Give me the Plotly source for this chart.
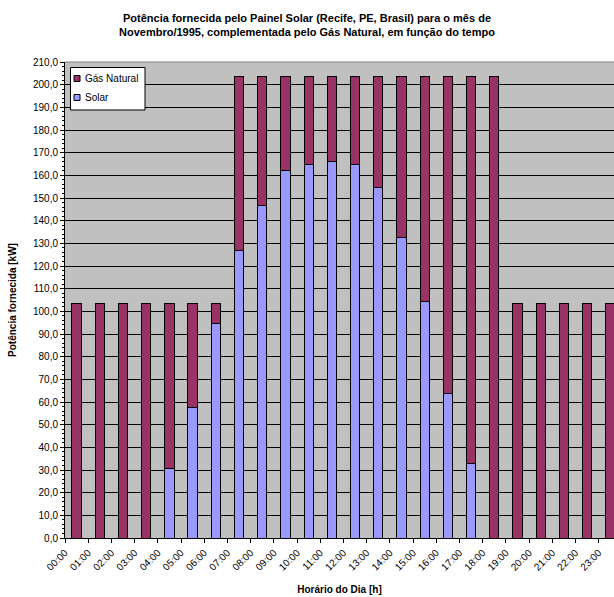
import plotly.graph_objects as go

hours = ["%02d:00" % h for h in range(24)]
solar = [0, 0, 0, 0, 30.7, 57.4, 94.8, 126.9, 146.8, 162.2, 164.9, 166.0,
         164.9, 154.7, 132.6, 104.5, 63.8, 33.0, 0, 0, 0, 0, 0, 0]
total = [103.6] * 7 + [203.6] * 12 + [103.6] * 5
gas = [round(t - s, 1) for t, s in zip(total, solar)]
series_names = ["Gás Natural", "Solar"]
series_colors = ["#993366", "#9999FF"]

x = list(range(24))
font = "Arial, Liberation Sans, sans-serif"

fig = go.Figure()
fig.add_trace(go.Bar(x=x, y=solar, name="Solar", marker=dict(color="#9999FF", line=dict(color="black", width=1)),
                     width=0.4, showlegend=False))
fig.add_trace(go.Bar(x=x, y=gas, name="Gás Natural", marker=dict(color="#993366", line=dict(color="black", width=1)),
                     width=0.4, showlegend=False))

fig.update_layout(
    width=614, height=597,
    barmode="stack",
    separators=",.",
    paper_bgcolor="white",
    plot_bgcolor="#C0C0C0",
    font=dict(family=font, size=10, color="black"),
    margin=dict(l=65, r=0, t=62, b=59, autoexpand=False),
    title=dict(text="<b>Potência fornecida pelo Painel Solar (Recife, PE, Brasil) para o mês de<br>Novembro/1995, complementada pelo Gás Natural, em função do tempo</b>",
               x=0.5, xanchor="center", y=0.963, yanchor="top", font=dict(size=11, family=font)),
    showlegend=False,
)
fig.update_xaxes(
    range=[-0.5, 23.16],
    automargin=False,
    tickmode="array",
    tickvals=[i - 0.5 for i in x],
    ticktext=hours,
    tickangle=-45,
    ticks="outside", ticklen=4, tickcolor="black",
    showline=True, linecolor="black", linewidth=1,
    showgrid=False, zeroline=False,
    tickfont=dict(size=10),
    title=dict(text="<b>Horário do Dia [h]</b>", font=dict(size=10), standoff=14),
)
fig.update_yaxes(
    range=[0, 210],
    automargin=False,
    tickmode="linear", tick0=0, dtick=10,
    tickformat=".1f",
    ticks="outside", ticklen=4, tickcolor="black",
    minor=dict(ticks="outside", ticklen=2, tickcolor="black", dtick=2, showgrid=False),
    showline=True, linecolor="black", linewidth=1, mirror=False,
    showgrid=True, gridcolor="black", gridwidth=1,
    zeroline=False,
    tickfont=dict(size=10),
    title=dict(text="<b>Potência fornecida [kW]</b>", font=dict(size=10), standoff=14),
)
# top border of plot area in grey
fig.add_shape(type="line", xref="paper", yref="paper", x0=0, x1=1, y0=1, y1=1,
              line=dict(color="#808080", width=1))

# custom legend box (paper coords: plot spans x 65..614, y 62..538)
pw, ph = 614 - 65, 538 - 62
def px(xp): return (xp - 65) / pw
def py(yp): return (538 - yp) / ph
fig.add_shape(type="rect", xref="paper", yref="paper", x0=px(70.5), x1=px(145), y0=py(110), y1=py(67.5),
              fillcolor="white", line=dict(color="black", width=1))
for i, (nm, col) in enumerate(zip(series_names, series_colors)):
    yc = 78.5 + i * 19
    fig.add_shape(type="rect", xref="paper", yref="paper", x0=px(74), x1=px(80), y0=py(yc + 3), y1=py(yc - 3),
                  fillcolor=col, line=dict(color="black", width=1))
    fig.add_annotation(xref="paper", yref="paper", x=px(83), y=py(yc), text=nm, showarrow=False,
                       xanchor="left", yanchor="middle", font=dict(size=10))

fig.write_html("out.html", config={"displayModeBar": False},
               post_script="document.body.style.margin='0';document.body.style.overflow='hidden';")
